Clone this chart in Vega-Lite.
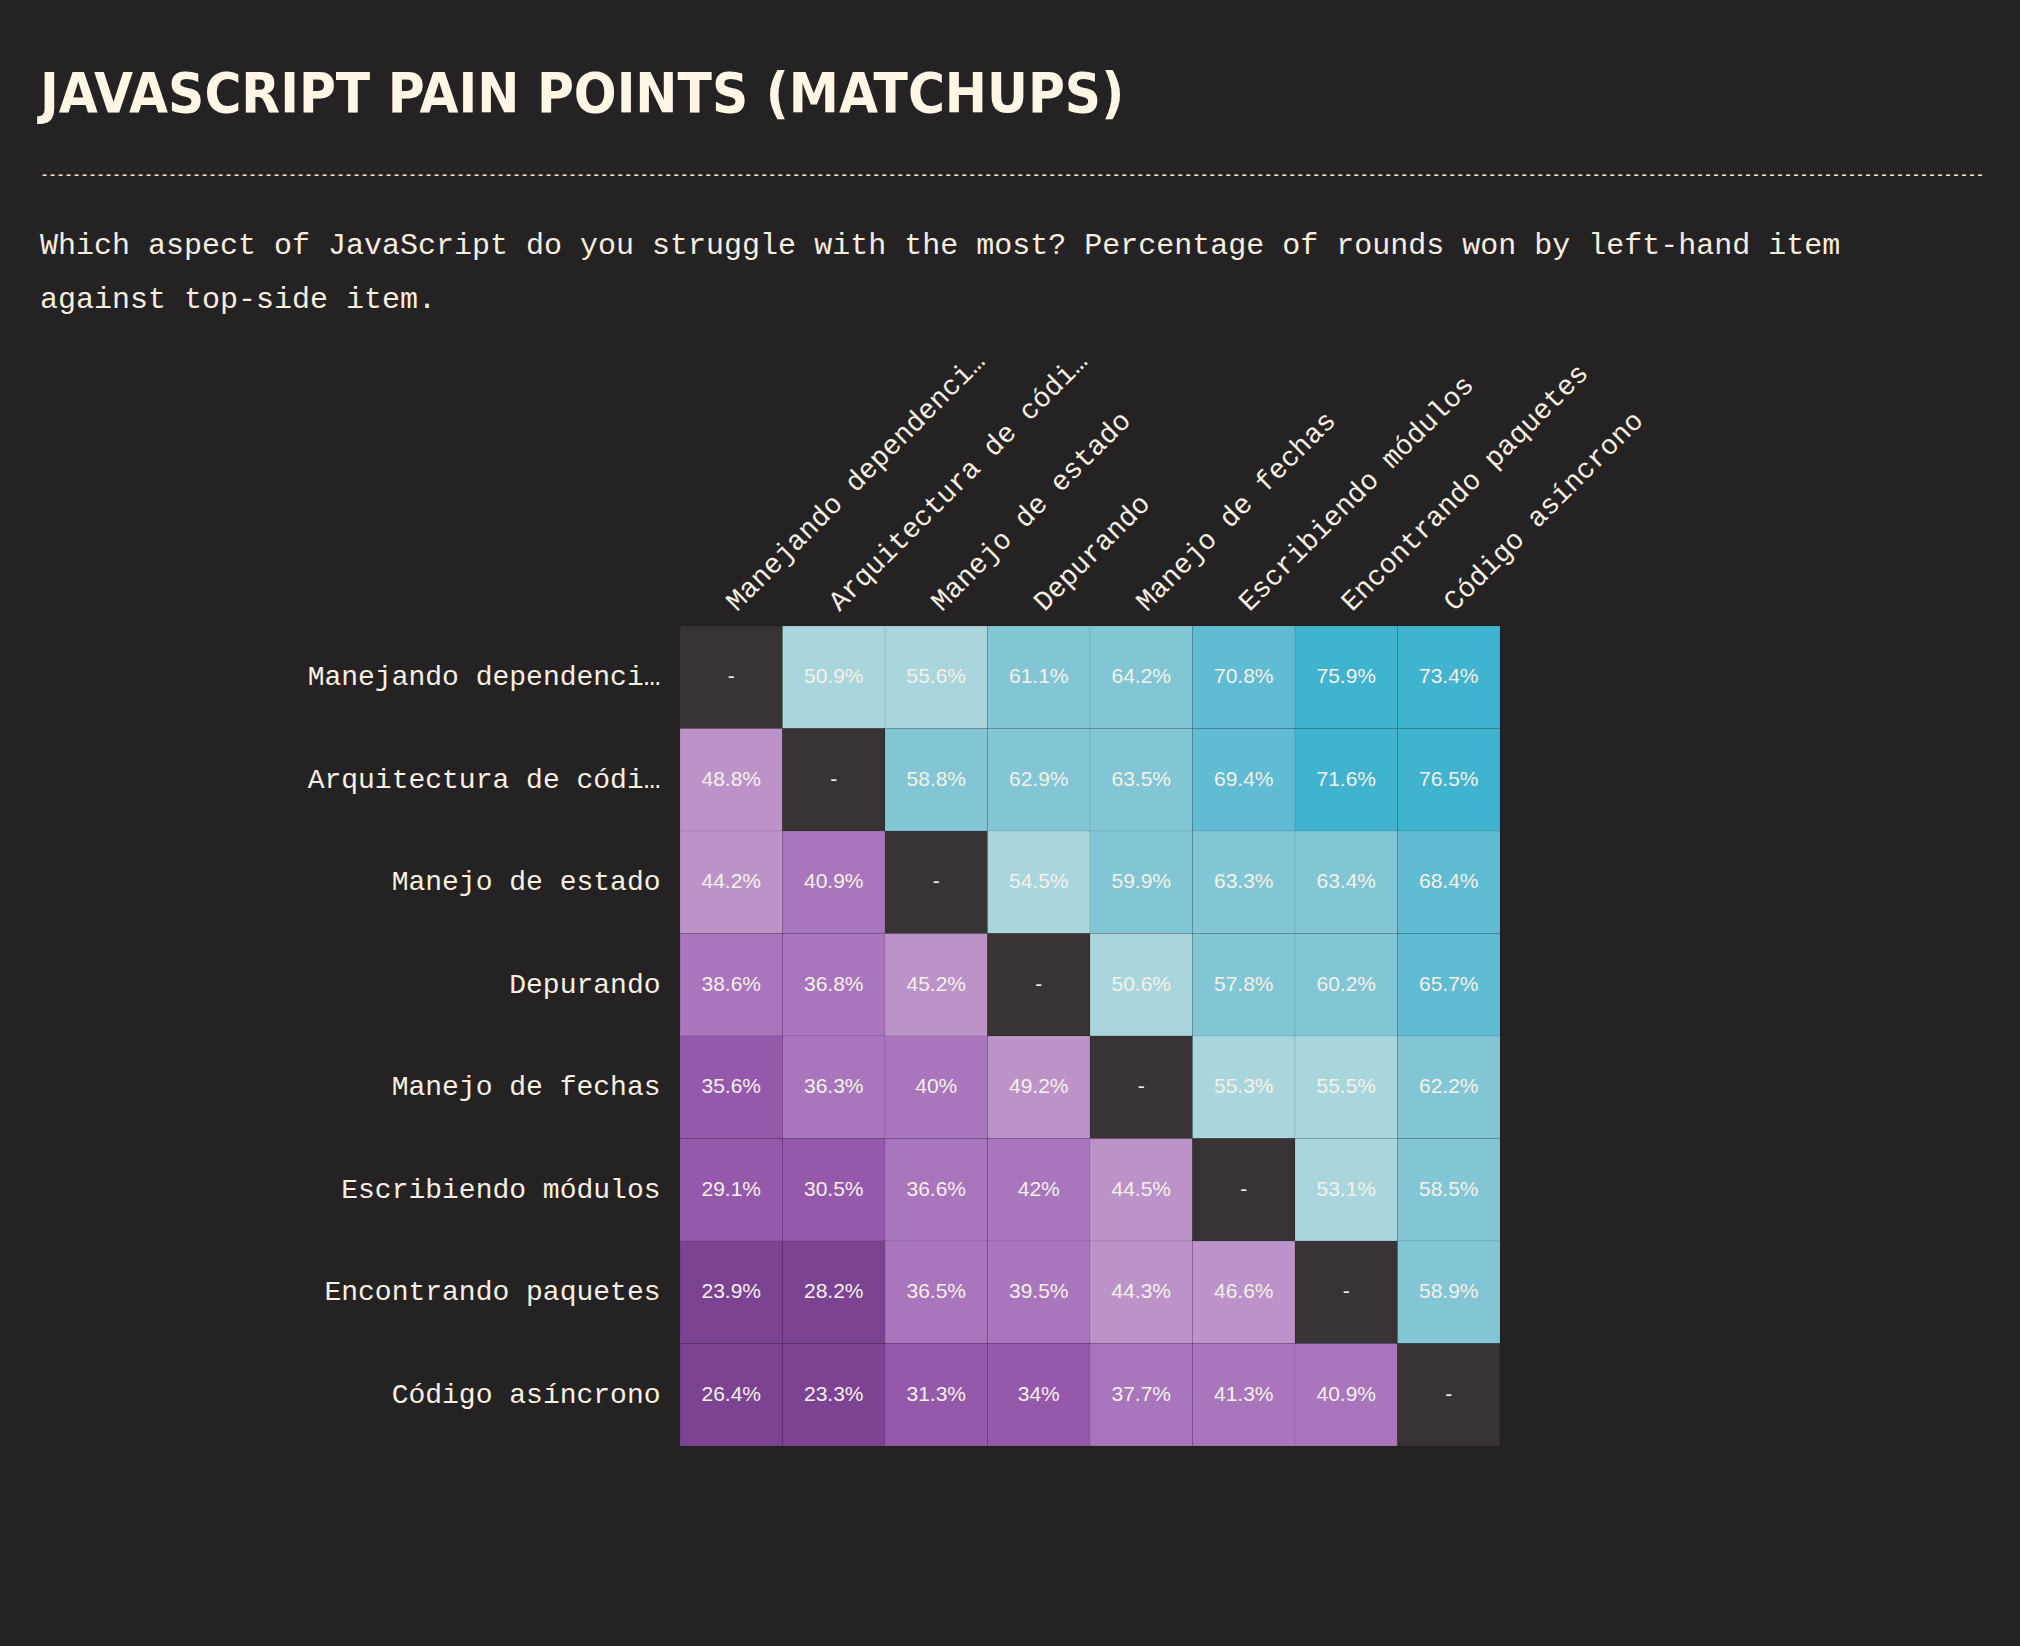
{
  "$schema": "https://vega.github.io/schema/vega-lite/v6.json",
  "background": "#252223",
  "autosize": {"type": "none"},
  "padding": {"left": 680, "top": 626, "right": 520, "bottom": 200},
  "width": 820,
  "height": 820,
  "title": {
    "text": "JAVASCRIPT PAIN POINTS (MATCHUPS)",
    "subtitle": ["Which aspect of JavaScript do you struggle with the most? Percentage of rounds won by left-hand item", "against top-side item."],
    "anchor": "start",
    "frame": "group",
    "dx": -640,
    "dy": 148,
    "offset": 0,
    "font": "DejaVu Sans Condensed",
    "fontWeight": "bold",
    "fontSize": 56,
    "color": "#fff6e6",
    "subtitleFont": "Liberation Mono",
    "subtitleFontSize": 30,
    "subtitleColor": "#f5eee1",
    "subtitleLineHeight": 54,
    "subtitlePadding": 106
  },
  "config": {
    "view": {"stroke": null},
    "axis": {"grid": false}
  },
  "data": {
    "values": [
      {"row": "Manejando dependencias", "col": "Manejando dependencias", "value": null},
      {"row": "Manejando dependencias", "col": "Arquitectura de código", "value": 0.509},
      {"row": "Manejando dependencias", "col": "Manejo de estado", "value": 0.556},
      {"row": "Manejando dependencias", "col": "Depurando", "value": 0.611},
      {"row": "Manejando dependencias", "col": "Manejo de fechas", "value": 0.642},
      {"row": "Manejando dependencias", "col": "Escribiendo módulos", "value": 0.708},
      {"row": "Manejando dependencias", "col": "Encontrando paquetes", "value": 0.759},
      {"row": "Manejando dependencias", "col": "Código asíncrono", "value": 0.734},
      {"row": "Arquitectura de código", "col": "Manejando dependencias", "value": 0.488},
      {"row": "Arquitectura de código", "col": "Arquitectura de código", "value": null},
      {"row": "Arquitectura de código", "col": "Manejo de estado", "value": 0.588},
      {"row": "Arquitectura de código", "col": "Depurando", "value": 0.629},
      {"row": "Arquitectura de código", "col": "Manejo de fechas", "value": 0.635},
      {"row": "Arquitectura de código", "col": "Escribiendo módulos", "value": 0.694},
      {"row": "Arquitectura de código", "col": "Encontrando paquetes", "value": 0.716},
      {"row": "Arquitectura de código", "col": "Código asíncrono", "value": 0.765},
      {"row": "Manejo de estado", "col": "Manejando dependencias", "value": 0.442},
      {"row": "Manejo de estado", "col": "Arquitectura de código", "value": 0.409},
      {"row": "Manejo de estado", "col": "Manejo de estado", "value": null},
      {"row": "Manejo de estado", "col": "Depurando", "value": 0.545},
      {"row": "Manejo de estado", "col": "Manejo de fechas", "value": 0.599},
      {"row": "Manejo de estado", "col": "Escribiendo módulos", "value": 0.633},
      {"row": "Manejo de estado", "col": "Encontrando paquetes", "value": 0.634},
      {"row": "Manejo de estado", "col": "Código asíncrono", "value": 0.684},
      {"row": "Depurando", "col": "Manejando dependencias", "value": 0.386},
      {"row": "Depurando", "col": "Arquitectura de código", "value": 0.368},
      {"row": "Depurando", "col": "Manejo de estado", "value": 0.452},
      {"row": "Depurando", "col": "Depurando", "value": null},
      {"row": "Depurando", "col": "Manejo de fechas", "value": 0.506},
      {"row": "Depurando", "col": "Escribiendo módulos", "value": 0.578},
      {"row": "Depurando", "col": "Encontrando paquetes", "value": 0.602},
      {"row": "Depurando", "col": "Código asíncrono", "value": 0.657},
      {"row": "Manejo de fechas", "col": "Manejando dependencias", "value": 0.356},
      {"row": "Manejo de fechas", "col": "Arquitectura de código", "value": 0.363},
      {"row": "Manejo de fechas", "col": "Manejo de estado", "value": 0.40},
      {"row": "Manejo de fechas", "col": "Depurando", "value": 0.492},
      {"row": "Manejo de fechas", "col": "Manejo de fechas", "value": null},
      {"row": "Manejo de fechas", "col": "Escribiendo módulos", "value": 0.553},
      {"row": "Manejo de fechas", "col": "Encontrando paquetes", "value": 0.555},
      {"row": "Manejo de fechas", "col": "Código asíncrono", "value": 0.622},
      {"row": "Escribiendo módulos", "col": "Manejando dependencias", "value": 0.291},
      {"row": "Escribiendo módulos", "col": "Arquitectura de código", "value": 0.305},
      {"row": "Escribiendo módulos", "col": "Manejo de estado", "value": 0.366},
      {"row": "Escribiendo módulos", "col": "Depurando", "value": 0.42},
      {"row": "Escribiendo módulos", "col": "Manejo de fechas", "value": 0.445},
      {"row": "Escribiendo módulos", "col": "Escribiendo módulos", "value": null},
      {"row": "Escribiendo módulos", "col": "Encontrando paquetes", "value": 0.531},
      {"row": "Escribiendo módulos", "col": "Código asíncrono", "value": 0.585},
      {"row": "Encontrando paquetes", "col": "Manejando dependencias", "value": 0.239},
      {"row": "Encontrando paquetes", "col": "Arquitectura de código", "value": 0.282},
      {"row": "Encontrando paquetes", "col": "Manejo de estado", "value": 0.365},
      {"row": "Encontrando paquetes", "col": "Depurando", "value": 0.395},
      {"row": "Encontrando paquetes", "col": "Manejo de fechas", "value": 0.443},
      {"row": "Encontrando paquetes", "col": "Escribiendo módulos", "value": 0.466},
      {"row": "Encontrando paquetes", "col": "Encontrando paquetes", "value": null},
      {"row": "Encontrando paquetes", "col": "Código asíncrono", "value": 0.589},
      {"row": "Código asíncrono", "col": "Manejando dependencias", "value": 0.264},
      {"row": "Código asíncrono", "col": "Arquitectura de código", "value": 0.233},
      {"row": "Código asíncrono", "col": "Manejo de estado", "value": 0.313},
      {"row": "Código asíncrono", "col": "Depurando", "value": 0.34},
      {"row": "Código asíncrono", "col": "Manejo de fechas", "value": 0.377},
      {"row": "Código asíncrono", "col": "Escribiendo módulos", "value": 0.413},
      {"row": "Código asíncrono", "col": "Encontrando paquetes", "value": 0.409},
      {"row": "Código asíncrono", "col": "Código asíncrono", "value": null}
    ]
  },
  "encoding": {
    "x": {
      "field": "col",
      "type": "nominal",
      "sort": ["Manejando dependencias", "Arquitectura de código", "Manejo de estado", "Depurando", "Manejo de fechas", "Escribiendo módulos", "Encontrando paquetes", "Código asíncrono"],
      "scale": {"paddingInner": 0, "paddingOuter": 0},
      "axis": {
        "orient": "top",
        "labelAngle": -45,
        "labelAlign": "left",
        "labelBaseline": "middle",
        "labelPadding": 20,
        "labelLimit": 360,
        "labelFont": "Liberation Mono",
        "labelFontSize": 28,
        "labelColor": "#f7f0e3",
        "ticks": false,
        "domain": false,
        "title": "---------------------------------------------------------------------------------------------------------------------------------------------------------------------------------------------------------------------------------------------------",
        "titleX": -640,
        "titleY": -452,
        "titleAlign": "left",
        "titleBaseline": "middle",
        "titleAngle": 0,
        "titleFont": "Liberation Mono",
        "titleFontSize": 13.33,
        "titleFontWeight": "bold",
        "titleColor": "#f2eadc",
        "titleLimit": 2100
      }
    },
    "y": {
      "field": "row",
      "type": "nominal",
      "sort": ["Manejando dependencias", "Arquitectura de código", "Manejo de estado", "Depurando", "Manejo de fechas", "Escribiendo módulos", "Encontrando paquetes", "Código asíncrono"],
      "scale": {"paddingInner": 0, "paddingOuter": 0},
      "axis": {
        "title": null,
        "labelPadding": 20,
        "labelLimit": 360,
        "labelFont": "Liberation Mono",
        "labelFontSize": 28,
        "labelColor": "#f7f0e3",
        "ticks": false,
        "domain": false
      }
    }
  },
  "layer": [
    {
      "mark": {"type": "rect", "invalid": "show", "stroke": "#000000", "strokeOpacity": 0.08, "strokeWidth": 1},
      "encoding": {
        "color": {
          "condition": {"test": "datum.value === null", "value": "#383436"},
          "field": "value",
          "type": "quantitative",
          "scale": {
            "type": "threshold",
            "domain": [0.29, 0.36, 0.43, 0.5, 0.565, 0.65, 0.71],
            "range": ["#7c4393", "#9559ac", "#a976bd", "#bb93c9", "#a9d5dd", "#82c6d5", "#5fbcd3", "#40b3cf"]
          },
          "legend": null
        }
      }
    },
    {
      "mark": {"type": "text", "invalid": "show", "font": "Liberation Sans", "fontSize": 21, "color": "#f6f1e8"},
      "encoding": {
        "text": {
          "condition": {"test": "datum.value === null", "value": "-"},
          "field": "value",
          "type": "quantitative",
          "format": ".1~%"
        }
      }
    }
  ]
}
